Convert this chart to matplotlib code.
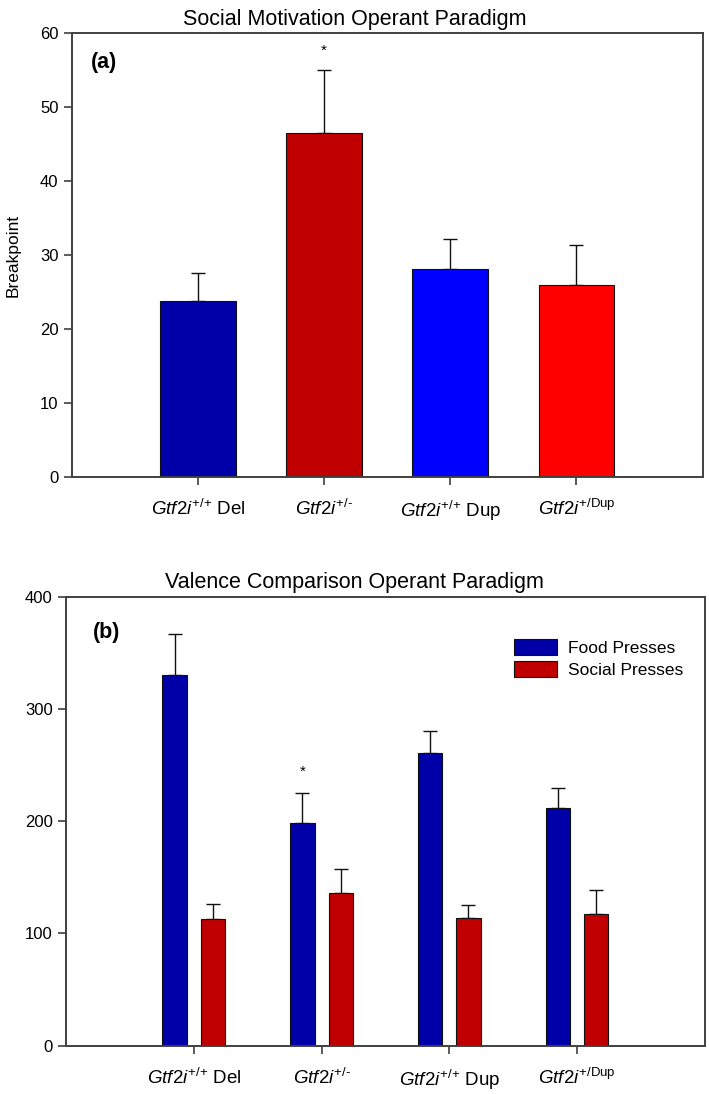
import matplotlib
matplotlib.use("Agg")
import matplotlib.pyplot as plt
from matplotlib import font_manager
import numpy as np

plt.rcParams['font.family'] = ['Liberation Sans', 'DejaVu Sans']
plt.rcParams['mathtext.fontset'] = 'custom'
plt.rcParams['mathtext.rm'] = 'Liberation Sans'
plt.rcParams['mathtext.it'] = 'Liberation Sans:italic'
plt.rcParams['mathtext.bf'] = 'Liberation Sans:bold'

names = {f.name for f in font_manager.fontManager.ttflist}
title_family = 'Liberation Sans Narrow' if 'Liberation Sans Narrow' in names else 'Liberation Sans'
title_size = 18.5 if title_family == 'Liberation Sans Narrow' else 15.5

# ---- data ----
categories = [r'$\mathit{Gtf2i}^{\text{+/+}}$ Del', r'$\mathit{Gtf2i}^{\text{+/-}}$',
              r'$\mathit{Gtf2i}^{\text{+/+}}$ Dup', r'$\mathit{Gtf2i}^{\text{+/Dup}}$']
breakpoint_mean = [23.8, 46.5, 28.1, 26.0]
breakpoint_sem = [3.7, 8.5, 4.0, 5.3]
bar_colors_a = ['#0000A8', '#C00000', '#0000FF', '#FF0000']

food_mean = [330, 198, 261, 212]
food_sem = [37, 27, 19, 18]
social_mean = [113, 136, 114, 117]
social_sem = [13, 21, 11, 22]
series_labels = ['Food Presses', 'Social Presses']
series_colors = ['#0000A8', '#C00000']

title_a = 'Social Motivation Operant Paradigm'
title_b = 'Valence Comparison Operant Paradigm'

fig = plt.figure(figsize=(7.09, 10.94), dpi=100)
spine_col = '#404040'

def style(ax):
    for s in ax.spines.values():
        s.set_color(spine_col)
        s.set_linewidth(1.4)
    ax.tick_params(axis='both', direction='out', length=6, width=1.2, color=spine_col,
                   labelsize=12)
    ax.tick_params(axis='x', labelsize=13.5, pad=10)

# ---- panel (a) ----
ax1_pos = [0.101, 0.5643, 0.890, 0.4053]
ax1 = fig.add_axes(ax1_pos)
x = np.arange(1, len(categories) + 1)
ax1.bar(x, breakpoint_mean, width=0.6, color=bar_colors_a, edgecolor='#101010', linewidth=0.8, zorder=2)
ax1.errorbar(x, breakpoint_mean, yerr=[np.zeros(4), breakpoint_sem], fmt='none',
             ecolor='#101010', elinewidth=1.0, capsize=5, capthick=1.0, zorder=1)
ax1.set_xlim(0, 5)
ax1.set_ylim(0, 60)
ax1.set_yticks([0, 10, 20, 30, 40, 50, 60])
ax1.set_xticks(x)
ax1.set_xticklabels(categories)
ax1.set_ylabel('Breakpoint', fontsize=12.5, labelpad=14)
ax1.set_title(title_a, fontsize=title_size, family=title_family, pad=6,
              x=(0.5 - ax1_pos[0]) / ax1_pos[2])
ax1.text(0.030, 0.935, '(a)', transform=ax1.transAxes, fontsize=15.5, fontweight='bold', va='center')
ax1.text(2, 57.6, '*', ha='center', va='center', fontsize=11)
style(ax1)

# ---- panel (b) ----
ax2_pos = [0.0931, 0.04415, 0.901, 0.4104]
ax2 = fig.add_axes(ax2_pos)
w = 0.19
off = 0.15
ax2.bar(x - off, food_mean, width=w, color=series_colors[0], edgecolor='#101010', linewidth=0.8,
        label=series_labels[0], zorder=2)
ax2.bar(x + off, social_mean, width=w, color=series_colors[1], edgecolor='#101010', linewidth=0.8,
        label=series_labels[1], zorder=2)
ax2.errorbar(x - off, food_mean, yerr=[np.zeros(4), food_sem], fmt='none',
             ecolor='#101010', elinewidth=1.0, capsize=5, capthick=1.0, zorder=1)
ax2.errorbar(x + off, social_mean, yerr=[np.zeros(4), social_sem], fmt='none',
             ecolor='#101010', elinewidth=1.0, capsize=5, capthick=1.0, zorder=1)
ax2.set_xlim(0, 5)
ax2.set_ylim(0, 400)
ax2.set_yticks([0, 100, 200, 300, 400])
ax2.set_xticks(x)
ax2.set_xticklabels(categories)
ax2.set_title(title_b, fontsize=title_size, family=title_family, pad=6,
              x=(0.5 - ax2_pos[0]) / ax2_pos[2])
ax2.text(0.042, 0.921, '(b)', transform=ax2.transAxes, fontsize=15.5, fontweight='bold', va='center')
ax2.text(2 - off, 244, '*', ha='center', va='center', fontsize=11)
leg = ax2.legend(loc='upper right', bbox_to_anchor=(0.99, 0.94), frameon=False, fontsize=12.5,
                 handlelength=2.5, handleheight=1.0, handletextpad=0.6, labelspacing=0.3)
style(ax2)

fig.savefig('out.png', dpi=100)
